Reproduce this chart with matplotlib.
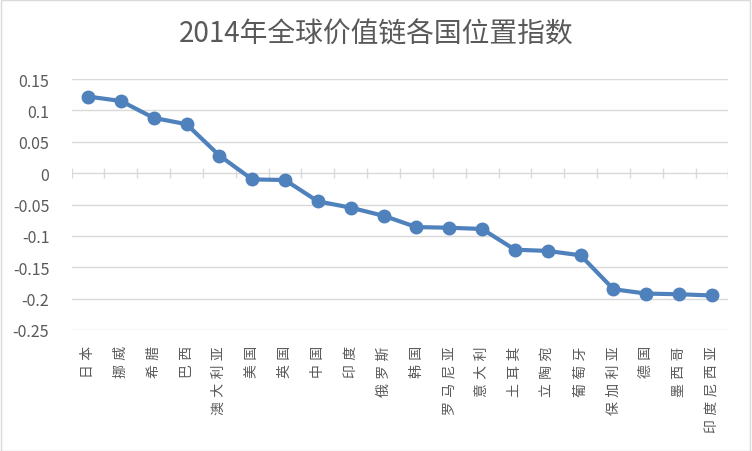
import matplotlib
matplotlib.use('Agg')
import matplotlib.pyplot as plt
from matplotlib.patches import Rectangle

plt.rcParams['font.family'] = ['Noto Sans CJK SC', 'DejaVu Sans']

countries = ['日本', '挪威', '希腊', '巴西', '澳大利亚', '美国', '英国', '中国', '印度', '俄罗斯',
             '韩国', '罗马尼亚', '意大利', '土耳其', '立陶宛', '葡萄牙', '保加利亚', '德国', '墨西哥', '印度尼西亚']
index_2014 = [0.122, 0.115, 0.088, 0.078, 0.028, -0.010, -0.011, -0.045, -0.055, -0.068,
              -0.086, -0.087, -0.089, -0.122, -0.124, -0.131, -0.185, -0.192, -0.193, -0.195]
y_ticks = [0.15, 0.1, 0.05, 0, -0.05, -0.1, -0.15, -0.2, -0.25]

grey_text = '#595959'
grid_col = '#D9D9D9'
blue = '#4F81BD'

fig = plt.figure(figsize=(7.52, 4.52), dpi=100)
fig.patches.append(Rectangle((0.001, 0.001), 0.997, 0.996, transform=fig.transFigure,
                             fill=False, edgecolor='#D9D9D9', linewidth=1))
ax = fig.add_axes([0.0952, 0.2677, 0.8734, 0.5553])

x = list(range(len(countries)))
ax.plot(x, index_2014, color=blue, linewidth=3, marker='o', markersize=9, zorder=3)

ax.set_xlim(-0.5, len(countries) - 0.5)
ax.set_ylim(-0.25, 0.15)
ax.set_yticks(y_ticks)
ax.set_yticklabels([f'{v:g}' for v in y_ticks], fontsize=11.5, color=grey_text)
for v in y_ticks:
    ax.axhline(v, color=grid_col, linewidth=1, zorder=1)

# category axis at zero with tick marks between categories
ax.vlines([i - 0.5 for i in range(len(countries) + 1)], -0.008, 0.008,
          color=grid_col, linewidth=1, zorder=1)

# spaced-out characters, like the stacked labels in the original
spaced = [' '.join(c) for c in countries]
ax.set_xticks(x)
ax.set_xticklabels(spaced, rotation=90, fontsize=10, color=grey_text, va='top',
                   family=['DejaVu Sans', 'Noto Sans CJK SC'])
ax.tick_params(axis='both', length=0)
ax.tick_params(axis='x', pad=11)
ax.tick_params(axis='y', pad=16)
for s in ax.spines.values():
    s.set_visible(False)

fig.text(0.5, 0.923, '2014年全球价值链各国位置指数', ha='center', va='center',
         fontsize=20, color=grey_text)

fig.savefig('out.png', dpi=100)
